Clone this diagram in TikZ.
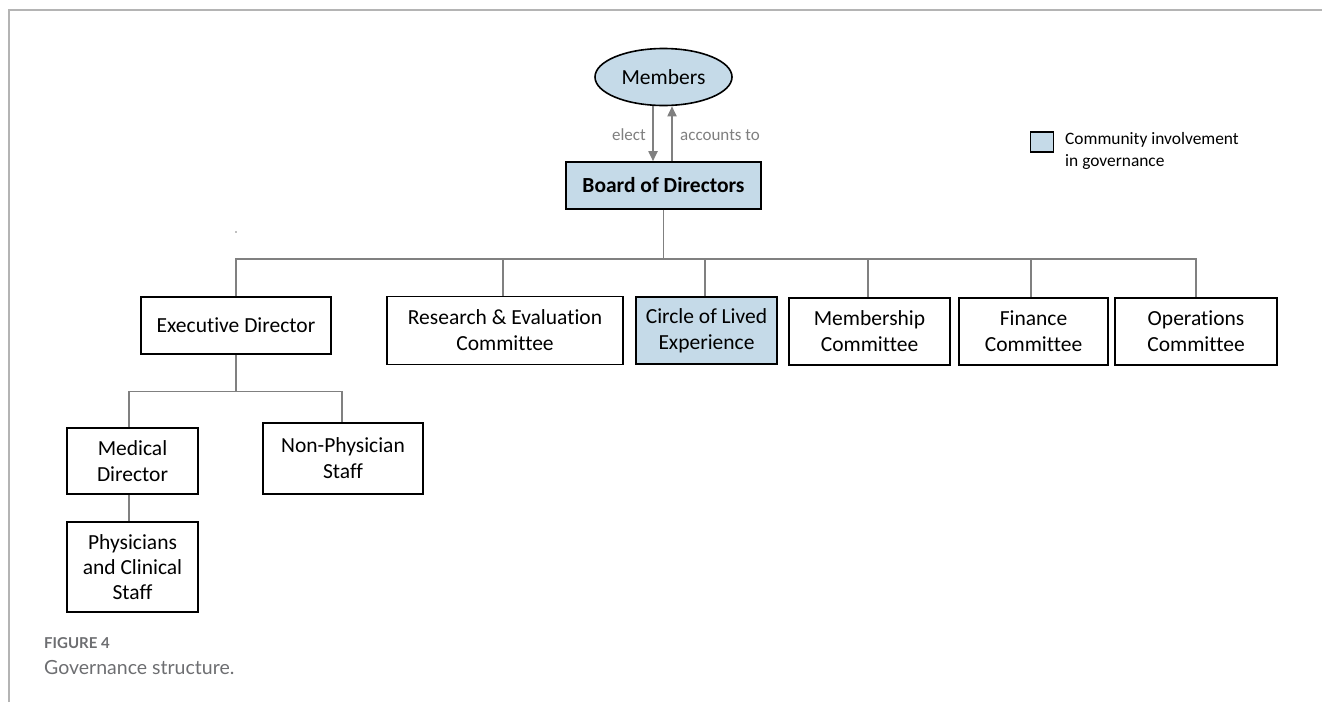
\documentclass[tikz,border=0pt]{standalone}
\usepackage{fontspec}
\setmainfont[Ligatures=NoCommon]{Carlito}
\newfontfamily\capfont{Lato}
\usetikzlibrary{shapes.geometric,arrows.meta}
\definecolor{boxblue}{HTML}{C5DAE8}
\definecolor{conngray}{HTML}{808080}
\definecolor{txtgray}{HTML}{7F7F7F}
\definecolor{framegray}{HTML}{B4B4B4}
\definecolor{capgray}{HTML}{6D6E71}
\tikzset{
  orgbox/.style={draw=black, line width=1.6pt, fill=white, inner sep=0pt, align=center,
    font=\fontsize{21.5}{26}\selectfont},
  bluebox/.style={orgbox, fill=boxblue},
  conn/.style={draw=conngray, line width=1.4pt},
  arr/.style={draw=conngray, line width=1.8pt, -{Triangle[width=9pt,length=10pt]}},
  lbl/.style={text=txtgray, font=\fontsize{17}{20}\selectfont, inner sep=0pt}
}
\begin{document}
\begin{tikzpicture}[x=1pt,y=-1pt]
\useasboundingbox (0,0) rectangle (1322,702);
% frame
\draw[framegray, line width=2pt] (9,702) -- (9,10) -- (1322,10);

% top
\node[ellipse, draw=black, line width=1.6pt, fill=boxblue, inner sep=0pt,
  minimum width=137, minimum height=57, font=\fontsize{21.5}{26}\selectfont] (members) at (663.5,77) {Members};
\node[bluebox, minimum width=195, minimum height=47, font=\fontsize{21.5}{26}\selectfont\bfseries] (board) at (663.5,185.5) {Board of Directors};

\draw[arr] ([xshift=-10.5pt]members.south) -- ([xshift=-10.5pt]members.south |- board.north);
\draw[arr] ([xshift=8.5pt]board.north) -- ([xshift=8.5pt]board.north |- members.south);
\node[lbl, anchor=east] (elect) at (646,135) {elect};
\node[lbl, anchor=west] (acc) at (680,135) {accounts to};

% legend
\node[draw=black, line width=1.6pt, fill=boxblue, minimum width=23, minimum height=20, inner sep=0pt] (legsq) at (1042,142) {};
\node[anchor=north west, align=left, inner sep=0pt, font=\fontsize{17.4}{22}\selectfont] (legtxt) at (1065,132) {Community involvement\\in governance};

% second row
\node[orgbox, minimum width=190, minimum height=57] (exec) at (236,325.5) {Executive Director};
\node[orgbox, minimum width=236, minimum height=68] (research) at (505,330.5) {Research \& Evaluation\\Committee};
\node[bluebox, minimum width=141, minimum height=67] (circle) at (706.5,330.5) {Circle of Lived\\Experience};
\node[orgbox, minimum width=161, minimum height=67] (membership) at (869.5,331.5) {Membership\\Committee};
\node[orgbox, minimum width=149, minimum height=67] (finance) at (1033.5,331.5) {Finance\\Committee};
\node[orgbox, minimum width=162, minimum height=67] (ops) at (1196,331.5) {Operations\\Committee};

% third row
\node[orgbox, minimum width=131, minimum height=66] (medical) at (132.5,461) {Medical\\Director};
\node[orgbox, minimum width=160, minimum height=71] (nonphys) at (343,458.5) {Non-Physician\\Staff};
\node[orgbox, minimum width=131, minimum height=90, font=\fontsize{21.5}{25}\selectfont] (phys) at (132.5,567) {Physicians\\and Clinical\\Staff};

% connectors
\draw[conn] (board.south) -- ++(0,49) coordinate (bJ);
\draw[conn] (exec.north) |- (bJ) -| (ops.north);
\draw[conn] ([xshift=-2pt]research.north) -- ([xshift=-2pt]research.north |- bJ);
\draw[conn] ([xshift=-1.5pt]circle.north) -- ([xshift=-1.5pt]circle.north |- bJ);
\draw[conn] ([xshift=-1.5pt]membership.north) -- ([xshift=-1.5pt]membership.north |- bJ);
\draw[conn] ([xshift=-2.5pt]finance.north) -- ([xshift=-2.5pt]finance.north |- bJ);

\draw[conn] (exec.south) -- ++(0,36.5) coordinate (eJ);
\draw[conn] ([xshift=-3.5pt]medical.north) |- (eJ) -| ([xshift=-1pt]nonphys.north);
\draw[conn] ([xshift=-3.5pt]medical.south) -- ([xshift=-3.5pt]phys.north);

\fill[conngray] (236,232) circle (0.9);

% caption
\node[anchor=base west, inner sep=0pt, text=capgray, font=\capfont\bfseries\fontsize{15}{17}\selectfont] (figlbl) at (44,648) {FIGURE 4};
\node[anchor=base west, inner sep=0pt, text=capgray, font=\capfont\fontsize{19.5}{22}\selectfont] (figcap) at (44,674) {Governance structure.};
\end{tikzpicture}
\end{document}
